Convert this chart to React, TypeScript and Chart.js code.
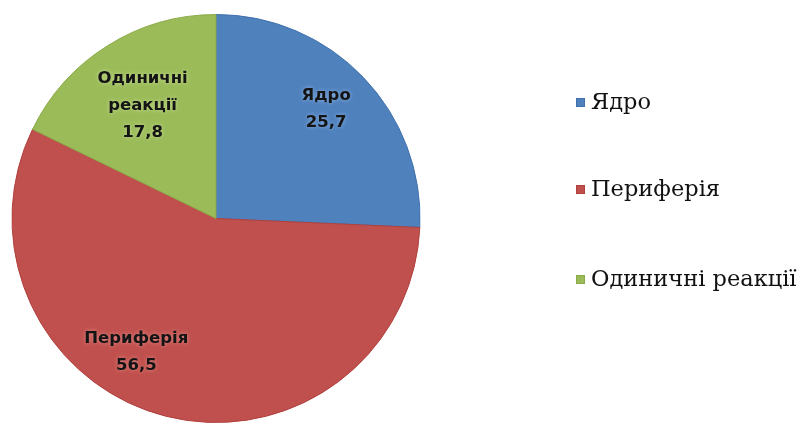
import React, { useEffect, useRef } from "react";
import { Chart, registerables } from "chart.js";

Chart.register(...registerables);

const categories = ["Ядро", "Периферія", "Одиничні реакції"];
const sliceLabels = [["Ядро"], ["Периферія"], ["Одиничні", "реакції"]];
const values = [25.7, 56.5, 17.8];
const valueLabels = ["25,7", "56,5", "17,8"];
const colors = ["#4F81BD", "#C0504D", "#9BBB59"];
const borderColors = ["#3F70AC", "#B0403D", "#8BAB49"];
const glowColors = ["#8fb4e3", "#e08a88", "#c6dc94"];
const labelRadius = [0.76, 0.765, 0.66];
const labelAngleShift = [-1, 16.5, -1];

const labelPlugin = {
  id: "sliceLabels",
  afterDatasetsDraw(chart: any) {
    const ctx = chart.ctx;
    const meta = chart.getDatasetMeta(0);
    ctx.save();
    ctx.font = "bold 16.5px 'DejaVu Sans', sans-serif";
    ctx.textAlign = "center";
    ctx.textBaseline = "middle";
    meta.data.forEach((arc: any, i: number) => {
      const p = arc.getProps(["x", "y", "startAngle", "endAngle", "outerRadius"], true);
      const mid = (p.startAngle + p.endAngle) / 2 + (labelAngleShift[i] * Math.PI) / 180;
      const r = p.outerRadius * labelRadius[i];
      const cx = p.x + Math.cos(mid) * r;
      const cy = p.y + Math.sin(mid) * r;
      const lines = [...sliceLabels[i], valueLabels[i]];
      const lh = 27;
      const y0 = cy - ((lines.length - 1) * lh) / 2;
      lines.forEach((t, k) => {
        ctx.shadowColor = glowColors[i];
        ctx.shadowBlur = 4;
        ctx.fillStyle = "#141414";
        ctx.fillText(t, cx, y0 + k * lh);
      });
    });
    ctx.restore();

    // legend
    ctx.save();
    ctx.font = "22.5px 'DejaVu Serif', 'Liberation Serif', serif";
    ctx.textAlign = "left";
    ctx.textBaseline = "middle";
    const legendYs = [102, 189, 279];
    categories.forEach((c, i) => {
      const y = legendYs[i];
      ctx.fillStyle = colors[i];
      ctx.fillRect(576, y - 4, 9, 9);
      ctx.strokeStyle = borderColors[i];
      ctx.lineWidth = 1;
      ctx.strokeRect(576.5, y - 3.5, 8, 8);
      ctx.fillStyle = "#111";
      ctx.fillText(c, 591, y + 1);
    });
    ctx.restore();
  },
};

export default function App() {
  const ref = useRef<HTMLCanvasElement>(null);
  useEffect(() => {
    const chart = new Chart(ref.current as HTMLCanvasElement, {
      type: "pie",
      data: {
        labels: categories,
        datasets: [
          {
            data: values,
            backgroundColor: colors,
            borderColor: borderColors,
            borderWidth: 1,
          },
        ],
      },
      options: {
        animation: false,
        responsive: false,
        layout: { padding: { left: 11, right: 383, top: 14, bottom: 0 } },
        plugins: { legend: { display: false }, tooltip: { enabled: false } },
      },
      plugins: [labelPlugin],
    });
    return () => chart.destroy();
  }, []);
  return (
    <div style={{ position: "fixed", left: 0, top: 0, width: 804, height: 423, background: "#fff" }}>
      <canvas ref={ref} width={804} height={423} />
    </div>
  );
}
